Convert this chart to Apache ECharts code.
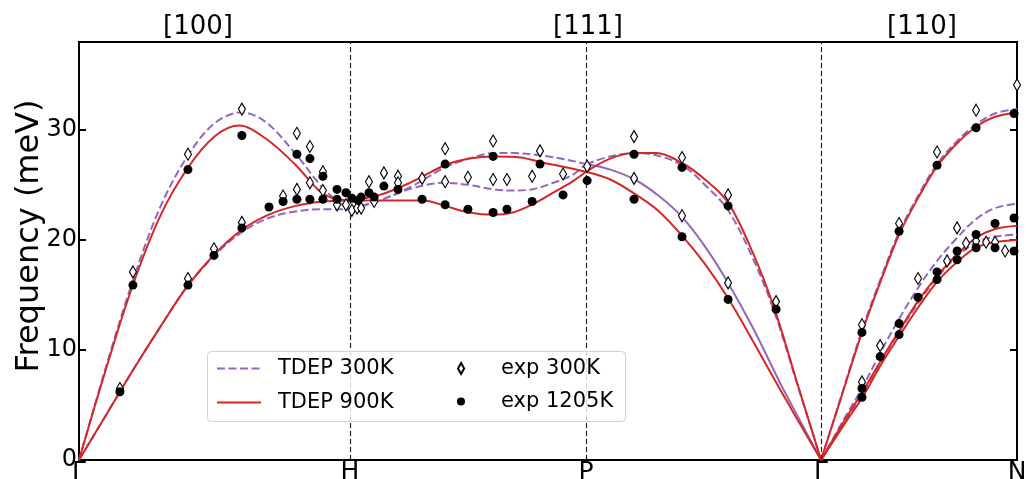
<!DOCTYPE html>
<html><head><meta charset="utf-8">
<script src="https://cdn.jsdelivr.net/npm/echarts@6/dist/echarts.min.js"></script>
<style>html,body{margin:0;padding:0;background:#fff}#c{width:1026px;height:479px}</style>
</head><body><div id="c"></div>
<script>
// ---- axis data ----
const xTickPos = [0, 1, 1.871, 2.738, 3.461];
const xTickLabels = ['Γ', 'H', 'P', 'Γ', 'N'];
const dirLabels = ['[100]', '[111]', '[110]'];
const yMin = 0, yMax = 38, yStep = 10;

// ---- TDEP 900K (red) branches: [q, meV] ----
const r900_GH_L = [[0,0],[0.1,8.3],[0.2,16.0],[0.3,22.2],[0.4,26.5],[0.5,29.4],[0.59,30.4],[0.69,29.2],[0.8,26.8],[0.89,24.4],[0.95,23.7],[1.0,23.6]];
const r900_GH_T = [[0,0],[0.1,4.1],[0.2,8.2],[0.3,12.1],[0.4,15.8],[0.5,18.7],[0.6,20.9],[0.7,22.3],[0.8,23.1],[0.9,23.5],[1.0,23.6]];
const r900_HP_up = [[1.0,23.6],[1.11,24.1],[1.23,25.3],[1.35,26.8],[1.44,27.4],[1.53,27.6],[1.63,27.5],[1.70,27.1],[1.80,26.6],[1.871,26.2]];
const r900_HP_low = [[1.0,23.6],[1.11,23.6],[1.27,23.6],[1.35,23.1],[1.44,22.5],[1.53,22.3],[1.60,22.5],[1.67,23.2],[1.75,24.3],[1.82,25.3],[1.871,26.2]];
const r900_PG_L = [[1.871,26.2],[1.96,27.4],[2.05,27.9],[2.13,27.9],[2.225,27.0],[2.31,25.5],[2.395,23.4],[2.487,18.8],[2.568,13.6],[2.65,7.0],[2.738,0]];
const r900_PG_T = [[1.871,26.2],[1.96,25.5],[2.05,24.2],[2.14,22.6],[2.225,20.4],[2.31,17.8],[2.395,14.7],[2.487,10.8],[2.587,6.4],[2.66,3.3],[2.738,0]];
const r900_GN_L = [[2.738,0],[2.815,5.9],[2.889,11.6],[2.96,16.4],[3.026,20.5],[3.10,24.0],[3.166,26.7],[3.24,28.8],[3.31,30.3],[3.38,31.2],[3.461,31.6]];
const r900_GN_M = [[2.738,0],[2.82,3.4],[2.893,6.3],[2.96,9.1],[3.03,11.9],[3.10,14.6],[3.166,16.7],[3.24,18.7],[3.31,20.2],[3.38,21.0],[3.461,21.3]];
const r900_GN_T = [[2.738,0],[2.82,3.1],[2.893,5.8],[2.96,8.7],[3.03,11.4],[3.10,14.0],[3.166,16.2],[3.24,18.0],[3.31,19.3],[3.38,19.8],[3.461,20.0]];

// ---- TDEP 300K (purple) branches ----
const p300_GH_L = [[0,0],[0.1,8.5],[0.2,16.4],[0.3,23.0],[0.4,27.6],[0.5,30.6],[0.6,31.6],[0.69,30.7],[0.8,27.8],[0.89,25.0],[0.95,23.6],[1.0,22.8]];
const p300_GH_T = [[0,0],[0.1,4.1],[0.2,8.2],[0.3,12.1],[0.4,15.8],[0.5,18.6],[0.6,20.7],[0.7,22.0],[0.8,22.6],[0.9,22.8],[1.0,22.8]];
const p300_HP_up = [[1.0,22.8],[1.11,23.6],[1.23,24.9],[1.35,26.6],[1.44,27.4],[1.53,27.9],[1.60,27.9],[1.70,27.7],[1.80,27.3],[1.871,26.9]];
const p300_HP_low = [[1.0,22.8],[1.11,23.6],[1.23,24.7],[1.35,25.2],[1.44,25.0],[1.53,24.6],[1.60,24.5],[1.67,24.6],[1.75,25.2],[1.82,25.9],[1.871,26.9]];
const p300_PG_L = [[1.871,26.9],[1.96,27.6],[2.05,27.9],[2.13,27.7],[2.225,26.8],[2.31,25.0],[2.395,22.7],[2.487,18.3],[2.568,13.3],[2.65,6.9],[2.738,0]];
const p300_PG_T = [[1.871,26.9],[1.96,26.4],[2.05,25.5],[2.14,24.0],[2.225,22.1],[2.31,19.4],[2.395,16.1],[2.487,12.0],[2.587,7.0],[2.66,3.6],[2.738,0]];
const p300_GN_L = [[2.738,0],[2.815,6.0],[2.889,11.8],[2.96,16.6],[3.026,20.7],[3.10,24.2],[3.166,26.9],[3.24,29.0],[3.31,30.5],[3.38,31.5],[3.461,31.9]];
const p300_GN_M = [[2.738,0],[2.82,3.6],[2.893,6.7],[2.96,9.9],[3.03,13.0],[3.10,15.8],[3.166,18.1],[3.24,20.2],[3.31,21.9],[3.38,22.9],[3.461,23.3]];
const p300_GN_T = [[2.738,0],[2.82,3.3],[2.893,6.1],[2.96,9.0],[3.03,11.8],[3.10,14.4],[3.166,16.6],[3.24,18.5],[3.31,19.8],[3.38,20.3],[3.461,20.5]];

// ---- experiment 300K (open diamonds) ----
const exp300 = [
 [0.151,6.5],[0.199,17.1],[0.402,16.5],[0.402,27.8],[0.498,19.2],[0.601,21.6],[0.601,31.9],
 [0.753,24.0],[0.804,24.6],[0.804,29.7],[0.852,25.2],[0.852,28.5],[0.900,24.5],[0.900,26.2],
 [0.952,23.2],[0.985,23.2],[1.007,22.7],[1.026,22.9],[1.041,22.9],[1.070,25.3],[1.089,23.5],[1.125,26.1],
 [1.177,25.8],[1.177,25.2],[1.266,25.6],[1.351,28.3],[1.351,25.3],[1.435,25.7],[1.528,29.0],[1.528,25.5],
 [1.579,25.5],[1.672,25.8],[1.701,28.1],[1.786,26.0],[1.875,26.7],
 [2.048,29.4],[2.048,25.6],[2.225,27.5],[2.225,22.2],[2.395,24.1],[2.395,16.1],[2.572,14.4],
 [2.889,12.3],[2.889,7.1],[2.956,10.4],[3.026,21.5],[3.096,16.5],[3.166,28.0],[3.203,18.1],
 [3.240,21.1],[3.273,19.7],[3.310,31.8],[3.310,19.9],[3.347,19.8],[3.380,19.8],[3.417,19.0],[3.461,34.1]
];
// ---- experiment 1205K (filled dots) ----
const exp1205 = [
 [0.151,6.2],[0.199,15.9],[0.402,15.9],[0.402,26.4],[0.498,18.6],[0.601,21.1],[0.601,29.5],
 [0.701,23.0],[0.753,23.5],[0.804,23.7],[0.804,27.8],[0.852,23.7],[0.852,27.4],[0.900,23.7],[0.900,25.8],
 [0.952,23.7],[0.952,24.6],[0.985,24.3],[1.007,23.8],[1.030,23.6],[1.041,23.9],[1.070,24.3],[1.089,23.9],[1.125,24.9],
 [1.177,24.6],[1.266,23.7],[1.351,26.9],[1.351,23.2],[1.435,22.8],[1.528,27.6],[1.528,22.5],[1.579,22.8],
 [1.672,23.5],[1.701,26.9],[1.786,24.1],[1.875,25.4],
 [2.048,27.8],[2.048,23.7],[2.225,26.6],[2.225,20.3],[2.395,23.1],[2.395,14.6],[2.572,13.7],
 [2.889,11.6],[2.889,6.5],[2.889,5.7],[2.956,9.4],[3.026,20.8],[3.026,12.4],[3.026,11.4],[3.096,14.8],
 [3.166,26.8],[3.166,17.1],[3.166,16.4],[3.240,19.0],[3.240,18.2],[3.310,30.2],[3.310,20.5],[3.310,19.3],
 [3.380,21.5],[3.380,19.3],[3.450,31.5],[3.450,22.0],[3.450,19.0]
];

// ---- styling / layout ----
const FONT = 'DejaVu Sans';
const PURPLE = '#9467bd', RED = '#d62728';
const DASH = [8, 3.5];
const DIAMOND = 'path://M0,-1L0.56,0L0,1L-0.56,0Z';

function lineSeries(name, data, color, dashed) {
  return {
    type: 'line', name: name, data: data, smooth: 0.35, symbol: 'none',
    silent: true, z: 3,
    itemStyle: { color: color },
    lineStyle: { color: color, width: 2, type: dashed ? DASH : 'solid' }
  };
}

const series = [];
[p300_GH_L, p300_GH_T, p300_HP_up, p300_HP_low, p300_PG_L, p300_GN_L, p300_GN_M, p300_GN_T]
  .forEach(d => series.push(lineSeries('TDEP 300K', d, PURPLE, true)));
series.push(lineSeries('TDEP 300K', p300_PG_T, PURPLE, false));
[r900_GH_L, r900_GH_T, r900_HP_up, r900_HP_low, r900_PG_L, r900_PG_T, r900_GN_L, r900_GN_M, r900_GN_T]
  .forEach(d => series.push(lineSeries('TDEP 900K', d, RED, false)));

// vertical high-symmetry lines
series[0].markLine = {
  silent: true, symbol: 'none', label: { show: false },
  lineStyle: { color: '#222', width: 1.2, type: [5, 3] },
  data: xTickPos.slice(1, 4).map(v => ({ xAxis: v }))
};

series.push({
  type: 'scatter', name: 'exp 300K', data: exp300, symbol: 'diamond', symbolSize: [7, 12], z: 5,
  itemStyle: { color: '#fff', borderColor: '#000', borderWidth: 1.2, opacity: 1 }
});
series.push({
  type: 'scatter', name: 'exp 1205K', data: exp1205, symbol: 'circle', symbolSize: 9, z: 6,
  itemStyle: { color: '#000', opacity: 1 }
});

const legendText = (pad) => ({ fontFamily: FONT, fontSize: 21, color: '#000', padding: [0, 0, 0, pad] });

const option = {
  animation: false,
  backgroundColor: '#fff',
  grid: { left: 79, right: 9, top: 42, bottom: 19, containLabel: false, outerBoundsMode: 'none' },
  xAxis: [{
    type: 'value', min: xTickPos[0], max: xTickPos[4],
    axisLine: { show: true, lineStyle: { color: '#000', width: 2 } },
    splitLine: { show: false },
    axisTick: { show: false },
    axisLabel: {
      customValues: xTickPos, margin: 0, color: '#000', fontFamily: FONT, fontSize: 25,
      formatter: v => { let b = 0; xTickPos.forEach((p, i) => { if (Math.abs(p - v) < Math.abs(xTickPos[b] - v)) b = i; }); return xTickLabels[b]; }
    }
  }, {
    type: 'value', position: 'top', min: xTickPos[0], max: xTickPos[4],
    axisLine: { show: true, onZero: false, lineStyle: { color: '#000', width: 2 } },
    axisTick: { show: false }, axisLabel: { show: false }, splitLine: { show: false }
  }],
  yAxis: [{
    type: 'value', min: yMin, max: yMax, interval: yStep,
    axisLine: { show: true, lineStyle: { color: '#000', width: 2 } },
    axisTick: { show: true, inside: true, length: 7, lineStyle: { color: '#000', width: 2 } },
    splitLine: { show: false },
    axisLabel: { color: '#000', fontFamily: FONT, fontSize: 24, margin: 2, showMaxLabel: false }
  }, {
    type: 'value', position: 'right', min: yMin, max: yMax, interval: yStep,
    axisLine: { show: true, onZero: false, lineStyle: { color: '#000', width: 2 } },
    axisTick: { show: true, inside: true, length: 7, lineStyle: { color: '#000', width: 2 } },
    splitLine: { show: false }, axisLabel: { show: false }
  }],
  legend: [{
    left: 216, top: 358, orient: 'vertical', padding: 0, itemGap: 13,
    itemWidth: 44, itemHeight: 14, z: 20,
    itemStyle: { opacity: 0, color: 'rgba(0,0,0,0)', borderWidth: 0 },
    data: ['TDEP 300K', 'TDEP 900K'], textStyle: legendText(12)
  }, {
    left: 457, top: 358, orient: 'vertical', padding: 0, z: 20,
    itemWidth: 44, itemHeight: 11,
    data: [{ name: 'exp 300K', icon: DIAMOND }], textStyle: legendText(13)
  }, {
    left: 457, top: 391, orient: 'vertical', padding: 0, z: 20,
    itemWidth: 44, itemHeight: 8,
    data: [{ name: 'exp 1205K', icon: 'circle' }], textStyle: legendText(13)
  }],
  graphic: [
    { type: 'rect', z: 10, silent: true, shape: { x: 207.5, y: 351.5, width: 418, height: 70, r: 4 },
      style: { fill: 'rgba(255,255,255,0.8)', stroke: '#d0d0d0', lineWidth: 1 } },
    { type: 'text', x: 30, y: 236, rotation: Math.PI / 2, silent: true,
      style: { text: 'Frequency (meV)', fontFamily: FONT, fontSize: 32, fill: '#000', align: 'center', verticalAlign: 'middle' } },
    { type: 'text', x: 198, y: 27, silent: true,
      style: { text: dirLabels[0], fontFamily: FONT, fontSize: 26, fill: '#000', align: 'center', verticalAlign: 'middle' } },
    { type: 'text', x: 588, y: 27, silent: true,
      style: { text: dirLabels[1], fontFamily: FONT, fontSize: 26, fill: '#000', align: 'center', verticalAlign: 'middle' } },
    { type: 'text', x: 922, y: 27, silent: true,
      style: { text: dirLabels[2], fontFamily: FONT, fontSize: 26, fill: '#000', align: 'center', verticalAlign: 'middle' } }
  ],
  series: series
};

const chart = echarts.init(document.getElementById('c'), null, { renderer: 'canvas' });
chart.setOption(option);
</script></body></html>
